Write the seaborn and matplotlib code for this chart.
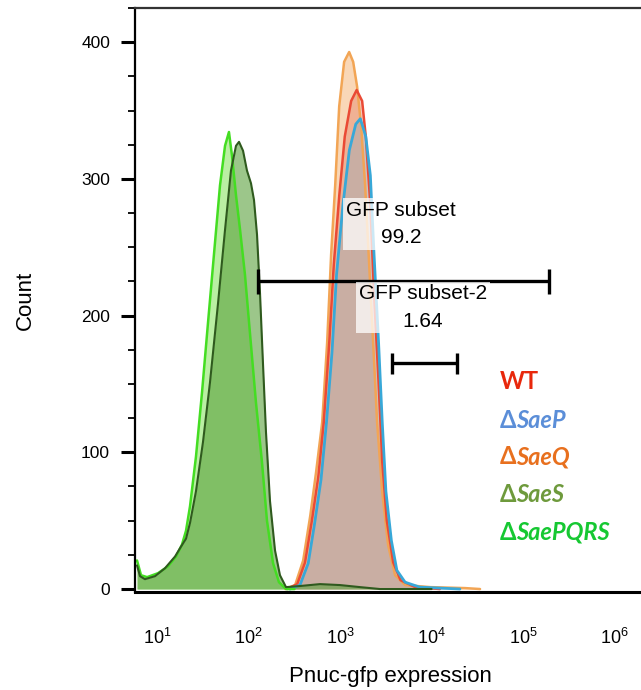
import numpy as np
import pandas as pd
import matplotlib
matplotlib.use("Agg")
import matplotlib.pyplot as plt
import seaborn as sns

# ---------------- data (log10 fluorescence, event count) ----------------
saes_log = [0.777, 0.810, 0.864, 0.974, 1.083, 1.193, 1.258, 1.313, 1.357, 1.422,
            1.499, 1.575, 1.663, 1.740, 1.805, 1.860, 1.893, 1.937, 1.980, 2.024,
            2.057, 2.090, 2.123, 2.155, 2.188, 2.232, 2.287, 2.341, 2.407, 2.560,
            2.779, 2.998, 3.217, 3.435, 4.000]
saes_cnt = [17.3, 9.4, 7.2, 9.4, 15.2, 23.8, 31.0, 36.8, 48.4, 71.5,
            107.6, 150.9, 208.7, 262.8, 306.1, 324.2, 327.1, 320.6, 306.1, 296.8,
            284.5, 259.2, 215.9, 165.3, 114.8, 64.3, 28.2, 10.1, 1.4, 2.2,
            3.6, 2.9, 1.4, 0.0, 0.0]

saepqrs_log = [0.777, 0.821, 0.887, 1.007, 1.116, 1.204, 1.269, 1.313, 1.357, 1.422,
               1.488, 1.553, 1.619, 1.685, 1.740, 1.783, 1.816, 1.860, 1.904, 1.958,
               2.013, 2.079, 2.144, 2.199, 2.265, 2.330, 2.407, 2.500]
saepqrs_cnt = [20.9, 10.1, 8.7, 11.6, 16.6, 23.8, 32.5, 42.6, 60.6, 96.8,
               143.7, 194.2, 244.8, 295.3, 324.2, 334.3, 317.0, 288.0, 263.0, 230.0,
               187.0, 136.0, 93.0, 50.0, 19.0, 5.0, 0.0, 0.0]

saeq_log = [2.398, 2.507, 2.595, 2.672, 2.737, 2.803, 2.857, 2.901, 2.945, 2.989,
            3.043, 3.098, 3.142, 3.185, 3.229, 3.273, 3.317, 3.361, 3.404, 3.459,
            3.525, 3.601, 3.711, 3.985, 4.364, 4.530]
saeq_cnt = [0.0, 2.9, 20.9, 53.4, 85.9, 122.0, 180.0, 245.0, 295.0, 353.0,
            385.6, 392.8, 385.6, 367.5, 338.6, 295.3, 237.5, 179.8, 122.0, 71.5,
            31.8, 10.1, 2.9, 1.4, 0.7, 0.0]

wt_log = [2.42, 2.53, 2.615, 2.69, 2.76, 2.82, 2.88, 2.93, 2.99, 3.05,
          3.12, 3.18, 3.24, 3.28, 3.33, 3.37, 3.42, 3.46, 3.51, 3.58,
          3.66, 3.82, 4.09]
wt_cnt = [0.0, 3.6, 19.5, 50.0, 82.0, 122.0, 180.0, 237.5, 288.0, 331.0,
          357.0, 365.0, 357.0, 331.0, 281.0, 216.0, 151.0, 93.0, 50.0, 19.5,
          6.5, 1.4, 0.0]

saep_log = [2.45, 2.56, 2.65, 2.72, 2.79, 2.85, 2.91, 2.96, 3.03, 3.10,
            3.17, 3.22, 3.28, 3.33, 3.37, 3.42, 3.46, 3.50, 3.56, 3.62,
            3.71, 3.87, 4.31]
saep_cnt = [0.0, 2.9, 18.8, 48.0, 80.0, 122.0, 173.0, 230.0, 281.0, 321.0,
            340.0, 344.0, 331.0, 302.5, 245.0, 180.0, 122.0, 71.5, 35.4, 13.7,
            5.0, 1.4, 0.0]

# gates: (left, right, level)
gate1_bounds = [126.0, 1.92e5]
gate1_level = 225.0
gate1_label = "GFP subset\n99.2"
gate2_bounds = [3690.0, 1.9e4]
gate2_level = 165.0
gate2_label = "GFP subset-2\n1.64"

y_ticks = [0, 100, 200, 300, 400]
x_ticks = [1e1, 1e2, 1e3, 1e4, 1e5, 1e6]
x_tick_labels = [r"$10^{1}$", r"$10^{2}$", r"$10^{3}$", r"$10^{4}$", r"$10^{5}$", r"$10^{6}$"]

legend_names = ["WT", "SaeP", "SaeQ", "SaeS", "SaePQRS"]
legend_colors = ["#e8280c", "#5b8ed8", "#e8701e", "#6e9a3c", "#16c832"]

# ---------------- style ----------------
sns.set_style("white")
plt.rcParams['font.family'] = ['Liberation Sans', 'DejaVu Sans']
plt.rcParams['text.color'] = 'black'
plt.rcParams['axes.labelcolor'] = 'black'
plt.rcParams['xtick.color'] = 'black'
plt.rcParams['ytick.color'] = 'black'
plt.rcParams['mathtext.fontset'] = 'custom'
plt.rcParams['mathtext.rm'] = 'Liberation Sans'
plt.rcParams['mathtext.it'] = 'Liberation Sans:italic'
plt.rcParams['mathtext.bf'] = 'Liberation Sans:bold'

fig = plt.figure(figsize=(6.41, 6.90), dpi=100)
ax = fig.add_axes([135/641, 98/690, 506/641, 584/690])
ax.set_xscale('log')

series = [
    # log, cnt, fill colour, fill alpha, line colour, lw
    (saeq_log, saeq_cnt, "#f5b070", 0.50, "#f2a555", 1.8),
    (wt_log, wt_cnt, "#e06a55", 0.35, "#ea4a35", 1.8),
    (saep_log, saep_cnt, "#6fa8c8", 0.30, "#38a8d8", 2.0),
    (saepqrs_log, saepqrs_cnt, "#66dd33", 0.45, "#44dd22", 1.8),
    (saes_log, saes_cnt, "#5aa03c", 0.60, "#2f5a1e", 1.5),
]
for lg, cnt, fc, fa, lc, lw in series:
    x = 10 ** np.array(lg)
    y = np.array(cnt)
    ax.fill_between(x, 0, y, color=fc, alpha=fa, lw=0, zorder=1)
for lg, cnt, fc, fa, lc, lw in series:
    df = pd.DataFrame({"x": 10 ** np.array(lg), "y": cnt})
    sns.lineplot(data=df, x="x", y="y", ax=ax, color=lc, lw=lw, sort=False,
                 estimator=None, zorder=2)

ax.set_xlim(10 ** 0.755, 10 ** 6.291)
ax.set_ylim(-2.17, 419.5)

# gates
for (gl, gr), lev, capw in [(gate1_bounds, gate1_level, 9), (gate2_bounds, gate2_level, 8)]:
    ax.plot([gl, gr], [lev, lev], color="black", lw=2.4, zorder=3, solid_capstyle='butt')
    for gx in (gl, gr):
        ax.plot([gx, gx], [lev - capw, lev + capw], color="black", lw=2.4, zorder=3,
                solid_capstyle='butt')

ax.text(4624, 267, gate1_label, ha='center', va='center', multialignment='center',
        fontsize=15, linespacing=1.55, zorder=4, color='black',
        bbox=dict(facecolor='white', edgecolor='none', alpha=0.75, pad=2))
ax.text(8054, 206, gate2_label, ha='center', va='center', multialignment='center',
        fontsize=15, linespacing=1.55, zorder=4, color='black',
        bbox=dict(facecolor='white', edgecolor='none', alpha=0.75, pad=2))

# axes styling
ax.set_yticks(y_ticks)
ax.set_yticks(np.arange(0, 426, 25), minor=True)
ax.set_xticks(x_ticks)
ax.set_xticklabels(x_tick_labels)
ax.xaxis.set_minor_locator(matplotlib.ticker.NullLocator())
ax.tick_params(axis='y', which='major', direction='out', length=10, width=2.2,
               labelsize=12.5, pad=8, left=True, color='black', labelcolor='black')
ax.tick_params(axis='y', which='minor', direction='out', length=5, width=1.3,
               left=True, color='black')
ax.tick_params(axis='x', which='major', length=0, labelsize=13, pad=26,
               labelcolor='black')

for side in ['left', 'bottom', 'top']:
    ax.spines[side].set_visible(True)
    ax.spines[side].set_color('black')
ax.spines['left'].set_linewidth(1.6)
ax.spines['bottom'].set_linewidth(2.2)
ax.spines['top'].set_linewidth(1.6)
ax.spines['top'].set_color('#333333')
ax.spines['right'].set_visible(False)

ax.set_ylabel("Count", fontsize=16, color='black')
ax.yaxis.set_label_coords(-0.217, 0.5)
ax.set_xlabel("Pnuc-gfp expression", fontsize=16, color='black')
ax.xaxis.set_label_coords(0.504, -0.1455)
ax.xaxis.label.set_va('center')
ax.yaxis.label.set_va('center')

# legend (coloured text)
leg_y = [382, 420, 457, 495, 532]
for name, col, yy in zip(legend_names, legend_colors, leg_y):
    if name == "WT":
        fig.text(500/641, 1 - yy/690, name, color=col, fontsize=17, fontweight='bold',
                 family='Lato', va='center', ha='left')
    else:
        t = fig.text(500/641, 1 - yy/690, "\u0394", color=col, fontsize=17,
                     fontweight='bold', family=['Lato', 'DejaVu Sans'], va='center', ha='left')
        fig.add_artist(matplotlib.text.Annotation(
            name, xy=(1, 0), xycoords=t, va='bottom', ha='left', color=col,
            fontsize=17, fontweight='bold', fontstyle='italic', family='Lato'))

fig.savefig("out.png", dpi=100)
